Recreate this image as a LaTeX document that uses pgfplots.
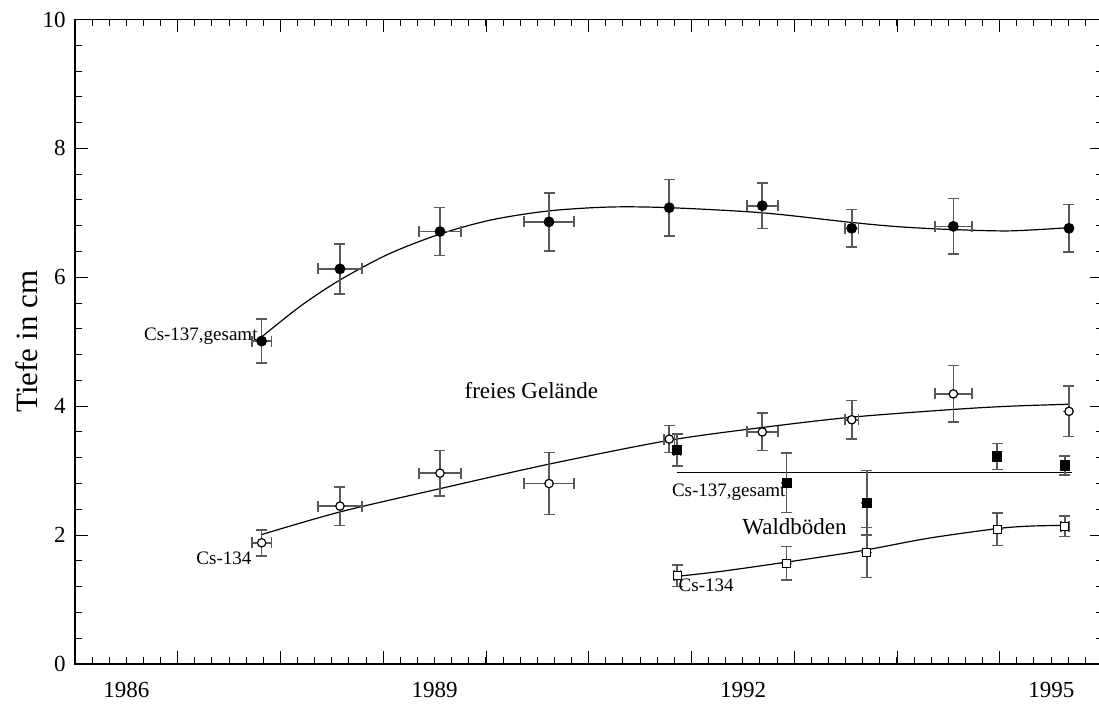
\documentclass[border=0pt]{standalone}
\usepackage{pgfplots}
\pgfplotsset{compat=1.18}
\usepackage{pgfplotstable}
\usepackage{fontspec}
\setmainfont{Liberation Serif}

\pgfplotstableread{
x y ex ey
1987.816 5.01 0.095 0.34
1988.578 6.13 0.216 0.39
1989.551 6.71 0.204 0.37
1990.612 6.86 0.243 0.45
1991.782 7.08 0 0.44
1992.687 7.11 0.15 0.35
1993.557 6.76 0.065 0.29
1994.546 6.79 0.18 0.43
1995.671 6.76 0 0.37
}\dataA
\pgfplotstableread{
x y ex ey
1987.816 1.88 0.095 0.20
1988.578 2.45 0.216 0.30
1989.551 2.96 0.204 0.35
1990.612 2.80 0.243 0.48
1991.782 3.49 0.05 0.21
1992.687 3.60 0.15 0.29
1993.557 3.79 0.065 0.30
1994.546 4.19 0.18 0.44
1995.671 3.92 0 0.39
}\dataB
\pgfplotstableread{
x y ex ey
1991.860 3.32 0.03 0.25
1992.924 2.81 0 0.46
1993.703 2.50 0 0.50
1994.971 3.22 0.03 0.20
1995.632 3.08 0.04 0.15
}\dataC
\pgfplotstableread{
x y ex ey
1991.860 1.37 0.03 0.17
1992.924 1.56 0 0.26
1993.703 1.73 0 0.39
1994.971 2.09 0 0.25
1995.632 2.14 0.04 0.16
}\dataD

\begin{document}
\begin{tikzpicture}
\begin{axis}[
  scale only axis,
  width=513.9pt, height=322.25pt,
  xmin=1986, xmax=1996, ymin=0, ymax=10,
  axis line style={line width=0.75pt},
  tick style={black, line width=0.5pt},
  tick align=inside, tick pos=both,
  major tick length=6.5pt, minor tick length=3.5pt,
  xtick={1986,...,1996}, xticklabels={},
  minor xtick={1986,1986.1666667,...,1996},
  extra x ticks={1986.5,1989.5,1992.5,1995.5},
  extra x tick labels={1986,1989,1992,1995},
  extra x tick style={major tick length=0pt, grid=none,
    xticklabel style={yshift=-5.7pt}},
  ytick={0,2,4,6,8,10},
  minor ytick={0,0.4,...,10},
  yticklabel style={xshift=-1.2pt},
  ticklabel style={font=\fontsize{11.5}{13}\selectfont},
  /pgf/number format/assume math mode=true,
  /pgf/number format/1000 sep={},
  ylabel={Tiefe in cm},
  ylabel style={at={(axis description cs:-0.0467,0.5)}, anchor=center,
    font=\fontsize{15.5}{17}\selectfont},
  clip=false,
  error bars/error bar style={line width=0.8pt, black!65},
  error bars/error mark options={rotate=90, mark size=2.75pt, line width=0.8pt, black!65},
]
\coordinate (bl) at (rel axis cs:0,0);

% fitted curves
\addplot[smooth, black, line width=0.6pt] coordinates {
(1987.82,5.08) (1988.2,5.56) (1988.58,5.96) (1989.05,6.36) (1989.55,6.67)
(1990.05,6.89) (1990.61,7.03) (1991.2,7.09) (1991.78,7.08) (1992.69,7.00)
(1993.56,6.85) (1994.05,6.78) (1994.55,6.74) (1995.1,6.72) (1995.67,6.77)};
\addplot[smooth, black, line width=0.6pt] coordinates {
(1987.82,2.01) (1988.58,2.36) (1989.55,2.72) (1990.61,3.10)
(1991.78,3.47) (1992.69,3.67) (1993.56,3.83) (1994.55,3.95) (1995.1,4.00) (1995.67,4.03)};
\addplot[black, line width=0.6pt] coordinates {(1991.86,2.97) (1995.70,2.97)};
\addplot[smooth, black, line width=0.6pt] coordinates {
(1991.86,1.36) (1992.3,1.44) (1992.92,1.58) (1993.3,1.67) (1993.70,1.77)
(1994.3,1.95) (1994.97,2.10) (1995.3,2.14) (1995.63,2.15)};

% data with error bars
\addplot[only marks, mark=*, mark size=2.5pt, black,
  error bars/.cd, x dir=both, x explicit, y dir=both, y explicit]
  table[x=x, y=y, x error=ex, y error=ey] {\dataA};
\addplot[only marks, mark=*, mark size=2.1pt, mark options={fill=white, draw=black, line width=0.6pt},
  error bars/.cd, x dir=both, x explicit, y dir=both, y explicit]
  table[x=x, y=y, x error=ex, y error=ey] {\dataB};
\addplot[only marks, mark=square*, mark size=2.3pt, black,
  error bars/.cd, x dir=both, x explicit, y dir=both, y explicit]
  table[x=x, y=y, x error=ex, y error=ey] {\dataC};
\addplot[only marks, mark=square*, mark size=2.0pt, mark options={fill=white, draw=black, line width=0.5pt},
  error bars/.cd, x dir=both, x explicit, y dir=both, y explicit]
  table[x=x, y=y, x error=ex, y error=ey] {\dataD};

% labels
\node[anchor=east, inner sep=0pt, font=\fontsize{9.5}{11}\selectfont] at (axis cs:1987.78,5.09) {Cs-137,gesamt};
\node[anchor=east, inner sep=0pt, font=\fontsize{9.5}{11}\selectfont] at (axis cs:1987.72,1.645) {Cs-134};
\node[anchor=center, inner sep=0pt, font=\fontsize{11.5}{13}\selectfont] at (axis cs:1990.44,4.24) {freies Gelände};
\node[anchor=west, inner sep=0pt, font=\fontsize{9.5}{11}\selectfont] at (axis cs:1991.805,2.67) {Cs-137,gesamt};
\node[anchor=west, inner sep=0pt, font=\fontsize{11.5}{13}\selectfont] at (axis cs:1992.49,2.13) {Waldböden};
\node[anchor=west, inner sep=0pt, font=\fontsize{9.5}{11}\selectfont] at (axis cs:1991.87,1.226) {Cs-134};
\end{axis}
\pgfresetboundingbox
\path[use as bounding box] ([xshift=-37.5pt, yshift=-20pt]bl) rectangle ([xshift=512pt, yshift=332pt]bl);
\end{tikzpicture}
\end{document}
